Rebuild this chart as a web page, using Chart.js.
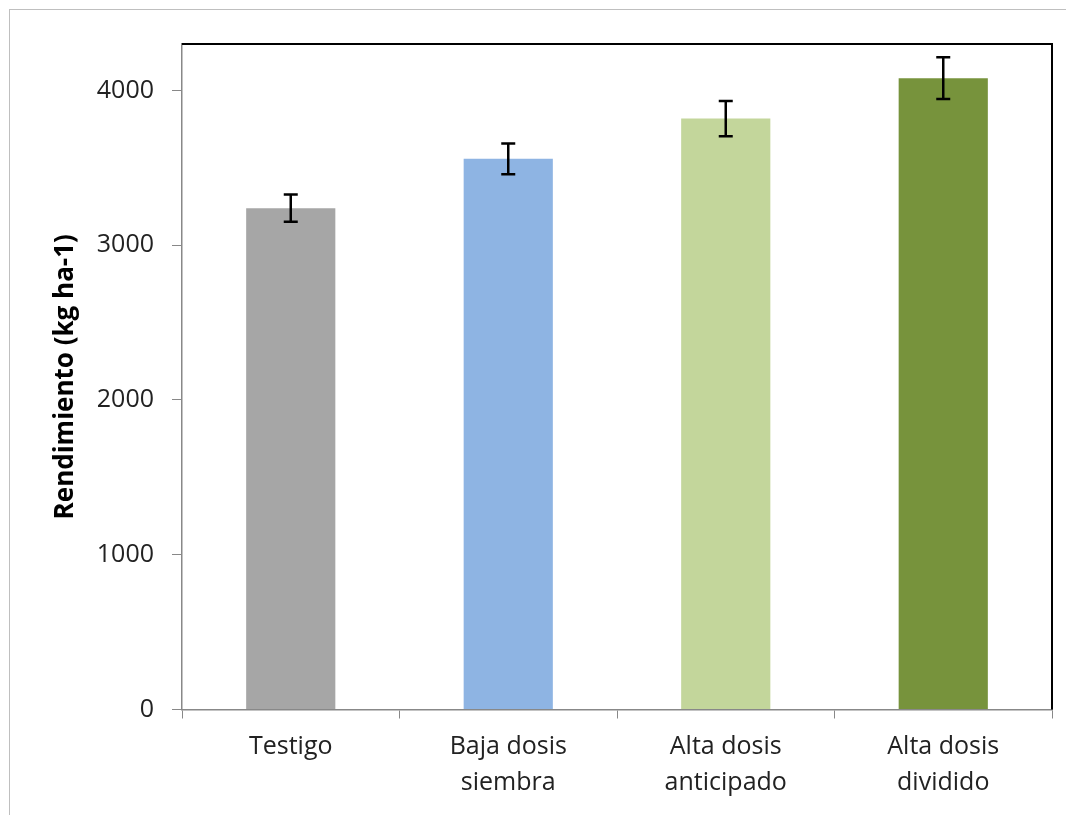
<!DOCTYPE html>
<html>
<head>
<meta charset="utf-8">
<script src="https://cdn.jsdelivr.net/npm/chart.js@4"></script>
<style>
    html, body { margin: 0; padding: 0; background: #fff; }
    #wrap { position: relative; width: 1066px; height: 815px; }
</style>
</head>
<body>
<div id="wrap"><canvas id="chart" width="1066" height="815"></canvas></div>
<script>
// Data
const categories = [['Testigo'], ['Baja dosis', 'siembra'], ['Alta dosis', 'anticipado'], ['Alta dosis', 'dividido']];
const rendimiento = [3239, 3558, 3818, 4079];
const errores = [88, 99, 114, 135];
const barColors = ['#a6a6a6', '#8eb4e3', '#c3d69b', '#77933c'];
const yTicks = [0, 1000, 2000, 3000, 4000];

// outer frame + top/right black border of the plot area
const framePlugin = {
    id: 'frame',
    beforeDraw(chart) {
        const ctx = chart.ctx;
        ctx.save();
        ctx.strokeStyle = '#bfbfbf';
        ctx.lineWidth = 1;
        ctx.strokeRect(9.5, 9.5, 1200, 1200);
        ctx.restore();
    },
    afterDatasetsDraw(chart) {
        const ctx = chart.ctx;
        const a = chart.chartArea;
        ctx.save();
        ctx.strokeStyle = '#000';
        ctx.lineWidth = 2;
        ctx.beginPath();
        ctx.moveTo(a.left, a.top);
        ctx.lineTo(a.right, a.top);
        ctx.lineTo(a.right, a.bottom);
        ctx.stroke();
        ctx.restore();
    }
};

// error bars from the values above
const errorBarPlugin = {
    id: 'errorBars',
    afterDatasetsDraw(chart) {
        const ctx = chart.ctx;
        const y = chart.scales.y;
        const meta = chart.getDatasetMeta(0);
        ctx.save();
        ctx.strokeStyle = '#000';
        ctx.lineWidth = 2.5;
        meta.data.forEach((bar, i) => {
            const top = y.getPixelForValue(rendimiento[i] + errores[i]);
            const bot = y.getPixelForValue(rendimiento[i] - errores[i]);
            const x = bar.x;
            ctx.beginPath();
            ctx.moveTo(x, top); ctx.lineTo(x, bot);
            ctx.moveTo(x - 7, top); ctx.lineTo(x + 7, top);
            ctx.moveTo(x - 7, bot); ctx.lineTo(x + 7, bot);
            ctx.stroke();
        });
        ctx.restore();
    }
};

new Chart(document.getElementById('chart'), {
    type: 'bar',
    data: {
        labels: categories,
        datasets: [{
            data: rendimiento,
            backgroundColor: barColors,
            borderWidth: 0,
            barPercentage: 0.41,
            categoryPercentage: 1
        }]
    },
    options: {
        responsive: false,
        animation: false,
        layout: { padding: { left: 40, right: 14, top: 44, bottom: 0 } },
        plugins: {
            legend: { display: false },
            tooltip: { enabled: false }
        },
        scales: {
            x: {
                offset: true,
                grid: {
                    offset: true,
                    drawOnChartArea: false,
                    color: '#888',
                    tickLength: 9
                },
                border: { color: '#888', width: 1.5 },
                ticks: {
                    color: '#222',
                    padding: 10,
                    maxRotation: 0,
                    font: { family: 'Open Sans', size: 25, lineHeight: 1.44 }
                },
                afterFit(scale) { scale.height = 815 - 709.5; }
            },
            y: {
                min: 0,
                max: 4300,
                afterBuildTicks(scale) { scale.ticks = yTicks.map(v => ({ value: v })); },
                grid: {
                    drawOnChartArea: false,
                    color: '#888',
                    tickLength: 10
                },
                border: { color: '#888', width: 1.5 },
                ticks: {
                    color: '#222',
                    padding: 18,
                    font: { family: 'Open Sans', size: 25 },
                    callback: v => String(v)
                },
                title: {
                    display: true,
                    text: 'Rendimiento (kg ha-1)',
                    color: '#000',
                    padding: { top: 10, bottom: 0 },
                    font: { family: 'Open Sans', size: 26, weight: 'bold', lineHeight: 1.2 }
                },
                afterFit(scale) { scale.width = 182 - 40; }
            }
        }
    },
    plugins: [framePlugin, errorBarPlugin]
});
</script>
</body>
</html>
